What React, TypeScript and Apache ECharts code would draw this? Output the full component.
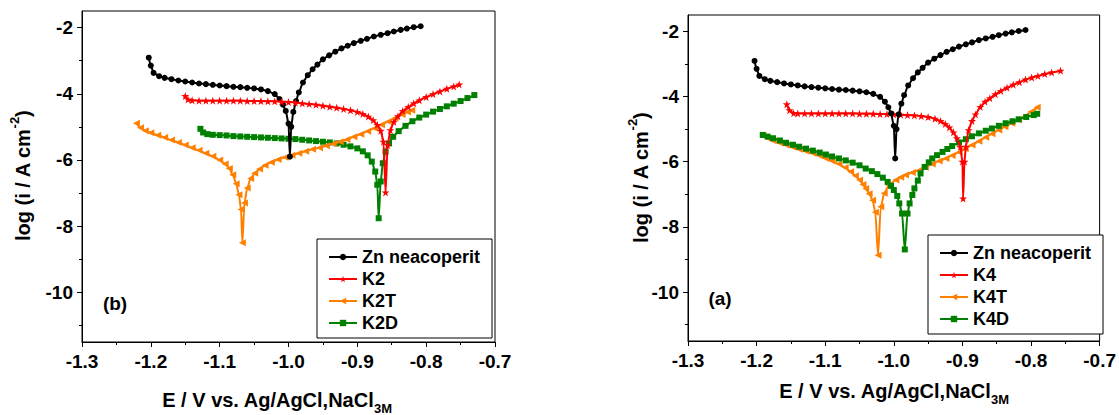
import React, { useEffect, useRef } from "react";
import * as echarts from "echarts";

type P = [number, number];

// Zn neacoperit (uncoated zinc), shared by both panels
const ZN: P[] = [
  [-1.203, -2.91], [-1.2, -3.15], [-1.196, -3.37], [-1.188, -3.47], [-1.18, -3.52], [-1.17, -3.56],
  [-1.16, -3.6], [-1.15, -3.63], [-1.14, -3.66], [-1.13, -3.69], [-1.12, -3.71], [-1.11, -3.73],
  [-1.1, -3.75], [-1.09, -3.77], [-1.08, -3.79], [-1.07, -3.8], [-1.06, -3.82], [-1.05, -3.84],
  [-1.04, -3.87], [-1.03, -3.92], [-1.02, -4.01], [-1.013, -4.16], [-1.008, -4.33], [-1.004, -4.52],
  [-1.0, -4.9], [-0.998, -5.9], [-0.996, -5.0], [-0.993, -4.55], [-0.989, -4.22], [-0.985, -3.96],
  [-0.979, -3.66], [-0.972, -3.44], [-0.965, -3.26], [-0.958, -3.12], [-0.95, -2.96], [-0.941, -2.84],
  [-0.932, -2.73], [-0.923, -2.63], [-0.914, -2.55], [-0.905, -2.47], [-0.895, -2.4], [-0.886, -2.34],
  [-0.876, -2.27], [-0.866, -2.22], [-0.856, -2.17], [-0.847, -2.12], [-0.837, -2.07], [-0.828, -2.03],
  [-0.818, -1.99], [-0.808, -1.96],
];

const K2: P[] = [
  [-1.15, -4.07], [-1.146, -4.17], [-1.14, -4.2], [-1.13, -4.21], [-1.12, -4.21], [-1.11, -4.21],
  [-1.1, -4.21], [-1.09, -4.21], [-1.08, -4.21], [-1.07, -4.21], [-1.06, -4.22], [-1.05, -4.22],
  [-1.04, -4.22], [-1.03, -4.23], [-1.02, -4.23], [-1.01, -4.24], [-1.0, -4.25], [-0.99, -4.27],
  [-0.98, -4.29], [-0.97, -4.31], [-0.96, -4.33], [-0.95, -4.36], [-0.94, -4.39], [-0.93, -4.42],
  [-0.92, -4.46], [-0.91, -4.5], [-0.9, -4.55], [-0.892, -4.61], [-0.884, -4.69], [-0.877, -4.8],
  [-0.871, -4.94], [-0.866, -5.12], [-0.862, -5.45], [-0.859, -6.98], [-0.856, -5.55], [-0.852, -5.1],
  [-0.847, -4.85], [-0.841, -4.68], [-0.834, -4.52], [-0.826, -4.4], [-0.818, -4.29], [-0.81, -4.2],
  [-0.8, -4.1], [-0.79, -4.01], [-0.78, -3.93], [-0.77, -3.85], [-0.76, -3.78], [-0.752, -3.72],
];

const K2T: P[] = [
  [-1.221, -4.89], [-1.215, -5.03], [-1.208, -5.12], [-1.2, -5.18], [-1.19, -5.25], [-1.18, -5.32],
  [-1.17, -5.4], [-1.16, -5.47], [-1.15, -5.55], [-1.14, -5.63], [-1.13, -5.71], [-1.12, -5.8],
  [-1.11, -5.89], [-1.1, -6.0], [-1.092, -6.12], [-1.086, -6.26], [-1.081, -6.45], [-1.076, -6.72],
  [-1.072, -7.05], [-1.069, -7.5], [-1.067, -8.5], [-1.064, -7.3], [-1.06, -6.85], [-1.055, -6.56],
  [-1.049, -6.4], [-1.042, -6.27], [-1.034, -6.16], [-1.025, -6.07], [-1.015, -5.99], [-1.005, -5.92],
  [-0.995, -5.86], [-0.985, -5.8], [-0.975, -5.74], [-0.965, -5.68], [-0.955, -5.63], [-0.945, -5.57],
  [-0.935, -5.51], [-0.925, -5.45], [-0.915, -5.38], [-0.905, -5.3], [-0.895, -5.22], [-0.885, -5.13],
  [-0.875, -5.04], [-0.865, -4.94], [-0.855, -4.84], [-0.845, -4.73], [-0.835, -4.63], [-0.827, -4.55],
  [-0.821, -4.5],
];

const K2D: P[] = [
  [-1.128, -5.06], [-1.124, -5.17], [-1.118, -5.22], [-1.11, -5.24], [-1.1, -5.25], [-1.09, -5.26],
  [-1.08, -5.28], [-1.07, -5.29], [-1.06, -5.3], [-1.05, -5.31], [-1.04, -5.32], [-1.03, -5.33],
  [-1.02, -5.34], [-1.01, -5.35], [-1.0, -5.36], [-0.99, -5.37], [-0.98, -5.39], [-0.97, -5.41],
  [-0.96, -5.43], [-0.95, -5.45], [-0.94, -5.47], [-0.93, -5.5], [-0.92, -5.54], [-0.91, -5.59],
  [-0.9, -5.65], [-0.892, -5.74], [-0.885, -5.86], [-0.879, -6.05], [-0.874, -6.35], [-0.871, -6.75],
  [-0.869, -7.76], [-0.866, -6.65], [-0.863, -6.1], [-0.859, -5.75], [-0.854, -5.5], [-0.848, -5.3],
  [-0.84, -5.13], [-0.83, -4.97], [-0.82, -4.83], [-0.81, -4.72], [-0.8, -4.63], [-0.79, -4.54],
  [-0.78, -4.46], [-0.77, -4.38], [-0.76, -4.3], [-0.75, -4.22], [-0.74, -4.13], [-0.73, -4.04],
];

const K4: P[] = [
  [-1.156, -4.24], [-1.152, -4.42], [-1.146, -4.51], [-1.14, -4.52], [-1.13, -4.52], [-1.12, -4.52],
  [-1.11, -4.52], [-1.1, -4.52], [-1.09, -4.52], [-1.08, -4.52], [-1.07, -4.52], [-1.06, -4.52],
  [-1.05, -4.53], [-1.04, -4.53], [-1.03, -4.53], [-1.02, -4.54], [-1.01, -4.54], [-1.0, -4.55],
  [-0.99, -4.56], [-0.98, -4.57], [-0.97, -4.58], [-0.96, -4.6], [-0.95, -4.63], [-0.94, -4.68],
  [-0.932, -4.75], [-0.925, -4.84], [-0.919, -4.95], [-0.913, -5.1], [-0.908, -5.28], [-0.903, -5.55],
  [-0.9, -6.0], [-0.899, -7.13], [-0.897, -6.0], [-0.895, -5.54], [-0.891, -5.03], [-0.886, -4.75],
  [-0.881, -4.55], [-0.874, -4.32], [-0.867, -4.16], [-0.86, -4.05], [-0.852, -3.93], [-0.844, -3.83],
  [-0.835, -3.73], [-0.826, -3.64], [-0.817, -3.56], [-0.808, -3.48], [-0.799, -3.42], [-0.79, -3.37],
  [-0.78, -3.31], [-0.77, -3.26], [-0.757, -3.21],
];

const K4T: P[] = [
  [-1.191, -5.18], [-1.184, -5.28], [-1.176, -5.36], [-1.166, -5.43], [-1.157, -5.49], [-1.147, -5.56],
  [-1.138, -5.62], [-1.128, -5.68], [-1.118, -5.74], [-1.108, -5.82], [-1.099, -5.9], [-1.09, -5.98],
  [-1.08, -6.07], [-1.071, -6.18], [-1.063, -6.31], [-1.056, -6.43], [-1.05, -6.56], [-1.045, -6.7],
  [-1.041, -6.82], [-1.036, -6.98], [-1.031, -7.18], [-1.027, -7.55], [-1.023, -8.87], [-1.019, -7.38],
  [-1.014, -6.97], [-1.007, -6.72], [-0.997, -6.56], [-0.99, -6.48], [-0.983, -6.41], [-0.973, -6.33],
  [-0.963, -6.26], [-0.954, -6.17], [-0.944, -6.07], [-0.934, -5.98], [-0.924, -5.9], [-0.915, -5.81],
  [-0.905, -5.71], [-0.896, -5.6], [-0.886, -5.49], [-0.876, -5.37], [-0.866, -5.25], [-0.857, -5.14],
  [-0.847, -5.03], [-0.838, -4.93], [-0.828, -4.82], [-0.818, -4.71], [-0.808, -4.6], [-0.8, -4.47],
  [-0.791, -4.33],
];

const K4D: P[] = [
  [-1.191, -5.18], [-1.184, -5.23], [-1.176, -5.28], [-1.166, -5.35], [-1.157, -5.42], [-1.147, -5.48],
  [-1.138, -5.54], [-1.128, -5.6], [-1.118, -5.66], [-1.108, -5.72], [-1.099, -5.78], [-1.09, -5.84],
  [-1.08, -5.9], [-1.07, -5.96], [-1.06, -6.03], [-1.05, -6.11], [-1.041, -6.21], [-1.032, -6.29],
  [-1.024, -6.38], [-1.016, -6.49], [-1.009, -6.62], [-1.004, -6.74], [-1.0, -6.87], [-0.995, -7.05],
  [-0.992, -7.28], [-0.988, -7.59], [-0.984, -8.69], [-0.98, -7.59], [-0.977, -7.28], [-0.973, -7.02],
  [-0.97, -6.82], [-0.965, -6.58], [-0.961, -6.36], [-0.955, -6.16], [-0.949, -6.02], [-0.944, -5.9],
  [-0.937, -5.8], [-0.929, -5.7], [-0.922, -5.61], [-0.915, -5.52], [-0.905, -5.41], [-0.895, -5.31],
  [-0.886, -5.22], [-0.876, -5.13], [-0.866, -5.05], [-0.857, -4.98], [-0.847, -4.9], [-0.837, -4.82],
  [-0.827, -4.76], [-0.818, -4.7], [-0.807, -4.63], [-0.796, -4.57], [-0.791, -4.53],
];

const X_MIN = -1.3;
const X_MAX = -0.7;
const X_STEP = 0.1;
const Y_MIN = -11.5;
const Y_MAX = -1.5;
const Y_MAJOR = [-10, -8, -6, -4, -2];
const Y_MINOR = [-11, -9, -7, -5, -3];

const LEFT_NAMES = ["Zn neacoperit", "K2", "K2T", "K2D"];
const RIGHT_NAMES = ["Zn neacoperit", "K4", "K4T", "K4D"];
const LEFT_DATA = [ZN, K2, K2T, K2D];
const RIGHT_DATA = [ZN, K4, K4T, K4D];
const PANEL_TAGS = ["(b)", "(a)"];

const FONT = "'Liberation Sans', Arial, Helvetica, sans-serif";
const COLORS = ["#000000", "#ff0000", "#ff8000", "#008000"];
const STAR =
  "path://M50 0 L61.8 34.5 L97.6 34.5 L68.8 55.9 L79.4 90.5 L50 69.1 L20.6 90.5 L31.2 55.9 L2.4 34.5 L38.2 34.5 Z";
const TRI_LEFT = "path://M0 50 L100 0 L100 100 Z";
const SYMBOLS = ["circle", STAR, TRI_LEFT, "rect"];
const SYMBOL_SIZES = [6, 8, 7, 6];
// drawing order (bottom -> top) per panel
const Z_LEFT = [3, 4, 2, 1];
const Z_RIGHT = [4, 3, 1, 2];

function buildOption() {
  const grids = [
    { left: 82, top: 11, width: 413, height: 331 },
    { left: 688, top: 15, width: 413, height: 326 },
  ];

  const tickLabel = {
    fontSize: 19,
    fontWeight: "bold" as const,
    color: "#000",
    fontFamily: FONT,
  };

  const xAxes = grids.map((_, gi) => ({
    type: "value",
    gridIndex: gi,
    min: X_MIN,
    max: X_MAX,
    interval: X_STEP,
    axisLine: { show: true, onZero: false, lineStyle: { color: "#000", width: 1 } },
    axisTick: { show: true, length: 5, lineStyle: { color: "#000", width: 1 } },
    minorTick: { show: true, splitNumber: 2, length: 3, lineStyle: { color: "#000", width: 1 } },
    splitLine: { show: false },
    minorSplitLine: { show: false },
    axisLabel: { ...tickLabel, margin: 10, formatter: (v: number) => v.toFixed(1) },
  }));

  const yAxes: any[] = [];
  grids.forEach((_, gi) => {
    yAxes.push({
      type: "value",
      gridIndex: gi,
      position: "left",
      min: Y_MIN,
      max: Y_MAX,
      axisLine: { show: true, onZero: false, lineStyle: { color: "#000", width: 1 } },
      axisTick: { show: true, length: 5, customValues: Y_MAJOR, lineStyle: { color: "#000", width: 1 } },
      axisLabel: { ...tickLabel, margin: 9, customValues: Y_MAJOR, formatter: (v: number) => String(v) },
      splitLine: { show: false },
    });
    yAxes.push({
      type: "value",
      gridIndex: gi,
      position: "left",
      offset: 0,
      min: Y_MIN,
      max: Y_MAX,
      axisLine: { show: false },
      axisTick: { show: true, length: 3, customValues: Y_MINOR, lineStyle: { color: "#000", width: 1 } },
      axisLabel: { show: false },
      splitLine: { show: false },
    });
  });

  const series: any[] = [];
  const addPanel = (names: string[], datas: P[][], gi: number, zs: number[]) => {
    names.forEach((name, i) => {
      series.push({
        type: "line",
        name,
        data: datas[i],
        xAxisIndex: gi,
        yAxisIndex: gi * 2,
        symbol: SYMBOLS[i],
        symbolSize: SYMBOL_SIZES[i],
        showAllSymbol: true,
        smooth: 0.25,
        smoothMonotone: "x",
        z: zs[i] + 2,
        color: COLORS[i],
        lineStyle: { color: COLORS[i], width: 2 },
        itemStyle: { color: COLORS[i] },
        emphasis: { disabled: true },
        animation: false,
      });
    });
  };
  addPanel(LEFT_NAMES, LEFT_DATA, 0, Z_LEFT);
  addPanel(RIGHT_NAMES, RIGHT_DATA, 1, Z_RIGHT);

  const legendBase = {
    orient: "vertical",
    padding: [9, 12, 6, 11],
    itemGap: 4,
    itemWidth: 28,
    itemHeight: 8,
    borderColor: "#000",
    borderWidth: 1,
    borderRadius: 0,
    backgroundColor: "#fff",
    selectedMode: false,
    textStyle: { fontSize: 18, fontWeight: "bold", color: "#000", fontFamily: FONT },
  };

  const mainRich = {
    fontSize: 20,
    fontWeight: "bold",
    fontFamily: FONT,
    fill: "#000",
    lineHeight: 30,
    verticalAlign: "middle",
  };
  const smallRich = { fontSize: 13, fontWeight: "bold", fontFamily: FONT, fill: "#000", lineHeight: 14 };

  const yName = (x: number, y: number) => ({
    type: "text",
    x,
    y,
    rotation: Math.PI / 2,
    silent: true,
    style: {
      text: "{m|log (i / A cm}{s|-2}{m|)}",
      align: "center",
      verticalAlign: "middle",
      rich: { m: mainRich, s: { ...smallRich, verticalAlign: "top" } },
    },
  });
  const xName = (x: number, y: number) => ({
    type: "text",
    x,
    y,
    silent: true,
    style: {
      text: "{m|E / V vs. Ag/AgCl,NaCl}{s|3M}",
      align: "center",
      verticalAlign: "middle",
      rich: { m: mainRich, s: { ...smallRich, verticalAlign: "bottom" } },
    },
  });
  const tag = (text: string, x: number, y: number) => ({
    type: "text",
    x,
    y,
    silent: true,
    style: {
      text,
      align: "center",
      verticalAlign: "middle",
      fontSize: 19,
      fontWeight: "bold",
      fontFamily: FONT,
      fill: "#000",
    },
  });

  return {
    animation: false,
    backgroundColor: "#fff",
    grid: grids.map((g) => ({ ...g, show: true, borderColor: "#000", borderWidth: 1, backgroundColor: "transparent", containLabel: false })),
    xAxis: xAxes,
    yAxis: yAxes,
    legend: [
      { ...legendBase, left: 317, top: 239, data: LEFT_NAMES },
      { ...legendBase, left: 928, top: 235, data: RIGHT_NAMES },
    ],
    series,
    graphic: [
      yName(23, 176),
      yName(641, 178),
      xName(277, 400),
      xName(894, 391),
      tag(PANEL_TAGS[0], 115, 303),
      tag(PANEL_TAGS[1], 720, 298),
    ],
  };
}

export default function App() {
  const ref = useRef<HTMLDivElement>(null);
  useEffect(() => {
    if (!ref.current) return;
    const chart = echarts.init(ref.current, undefined, { renderer: "svg" });
    chart.setOption(buildOption() as any);
    return () => chart.dispose();
  }, []);
  return (
    <div
      ref={ref}
      style={{ position: "absolute", left: 0, top: 0, width: 1119, height: 415, background: "#fff" }}
    />
  );
}
